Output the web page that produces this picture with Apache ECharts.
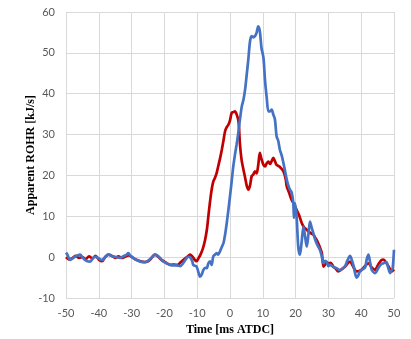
<!DOCTYPE html>
<html>
<head>
<meta charset="utf-8">
<script src="https://cdn.jsdelivr.net/npm/echarts@6/dist/echarts.min.js"></script>
<style>html,body{margin:0;padding:0;background:#fff;}#c{width:411px;height:339px;}</style>
</head>
<body>
<div id="c"></div>
<script>
var xTicks = [-50, -40, -30, -20, -10, 0, 10, 20, 30, 40, 50];
var yTicks = [-10, 0, 10, 20, 30, 40, 50, 60];

var redTime = [-50,-49,-48,-47,-46,-45,-44,-43,-42,-41,-40,-39,-38,-37,-36,-35,-34,-33,-32,-31,-30,-29,-28,-27,-26,-25,-24,-23,-22,-21,-20,-19,-18,-17,-16,-15,-14,-13,-12.2,-11.5,-10.7,-10.2,-9.7,-9,-8.3,-7.6,-7,-6.6,-6.1,-5.6,-5.1,-4.6,-4.1,-3.6,-3,-2.5,-2,-1.5,-1,-0.5,0,0.5,1,1.5,2,2.6,3,3.5,4.1,4.6,5.1,5.6,6.1,6.6,7.1,7.6,8.1,8.6,9.1,9.6,10.2,10.7,11.2,11.7,12.2,12.7,13.2,13.7,14.2,15,16.3,17,17.3,18,18.8,19.5,20.3,21.1,21.9,22.6,23.4,24.4,25.4,26.2,26.9,27.5,28,28.5,29,29.5,30,30.7,31.5,32.2,33,34,35.1,36,36.6,37.5,38.6,39.6,40.6,41.4,42.2,43.2,44.2,45.2,46.2,46.8,47.7,48.5,49.3,50];
var redROHR = [0,-0.6,-0.2,0.3,-0.2,0,-0.5,0.2,-0.3,0.3,-0.6,-1,0.1,0.6,0.3,-0.2,0.2,-0.2,0.1,0.4,0.1,-0.5,-0.8,-1.1,-1.2,-1,-0.3,0.6,0.2,-0.6,-1.1,-1.6,-1.9,-1.8,-1.9,-1.2,-0.5,0.1,0.6,0.2,-0.7,-1,-0.4,0.6,2,4.2,7,10,13.5,16.5,18.5,19.4,20.5,22.2,24.3,26.3,28.5,30.8,31.8,32.4,33.5,35.3,35.5,35.7,35,33.2,28,24,21.4,19.5,17.5,16.5,17.5,19.8,20.2,21,20.5,22.5,25.5,24,22.6,22.2,23,23.4,22.8,23.5,24.3,23.5,22.6,22.2,21,19,17.3,15.8,14,13,11.6,10.2,8.3,7.3,6.7,6,5.5,4.5,3.4,2.2,1,-2.3,-1.8,-1.2,-1.5,-1.4,-2.3,-2.8,-3.5,-3,-2.3,-1.4,-1.1,-2.2,-3.5,-3.3,-2.7,-2,-1.5,-2.5,-3.1,-1.8,-0.7,-0.6,-1.5,-2.5,-3.5,-3];

var blueTime = [-50,-49.5,-48.8,-48,-47.3,-46.5,-45.7,-45,-44.2,-43.5,-42.7,-42,-41.2,-40.2,-39.1,-38,-37.1,-36,-35.1,-34.3,-33.5,-32.5,-31.5,-31,-30.3,-29.5,-28.5,-27.4,-26.4,-25.4,-24.4,-23.5,-22.9,-22,-21,-20.3,-19.3,-18.3,-17.3,-16.3,-15.2,-14.3,-13.2,-12.7,-12.2,-11.5,-11.2,-10.2,-9.7,-9.1,-8.6,-8.1,-7.6,-7.1,-6.6,-6.1,-5.6,-5.1,-4.6,-4.1,-3.6,-3,-2.5,-2,-1.5,-1,-0.5,0,0.5,1,1.5,2,2.5,3,3.6,4.1,4.6,5.1,5.6,6.1,6.6,7.1,7.6,8.1,8.6,9.1,9.6,10.2,10.7,11.2,11.7,12.2,12.7,13.2,13.7,14.2,14.7,15.2,15.8,16.3,16.8,17.3,17.8,18.3,18.8,19.3,19.5,19.8,20.3,20.8,21.3,21.8,22.4,22.9,23.4,23.9,24.4,24.9,25.4,25.9,26.4,26.9,27.4,27.9,28.5,29,29.5,30,30.5,31.5,32.5,33.5,34.3,35.1,35.8,36.6,37.1,37.6,38.1,38.6,39.1,39.6,40.4,41.2,41.7,42.2,42.7,43.2,44.2,45.2,46,46.8,47.7,48.3,48.8,49.3,49.6,50];
var blueROHR = [1.1,0.5,-0.7,-0.3,0.1,0.4,0.6,0,-0.7,-1,-1.1,-0.5,0.1,-0.2,-0.7,0,0.6,0.3,0.1,-0.1,-0.2,0.2,0.6,1,0.3,-0.2,-0.7,-1.1,-1.2,-1.1,-0.5,0.2,0.6,0.3,-0.5,-1.1,-1.5,-1.9,-2,-2,-2.2,-1.5,-0.2,0.1,0,-1,-1.9,-2.3,-3.5,-4.8,-4.2,-3.1,-2.6,-2.7,-1.5,-1,-1.9,0.2,0.6,1,0.6,1.5,2.5,3.4,5.5,8.3,11.5,14.9,18.5,22.2,25,27.5,30.2,33.5,36.9,38.5,41,44.7,48.5,52.8,54.1,53.8,54.1,54.9,56.5,55.3,51.2,48.8,43,39,35.7,35.7,36.1,34.9,33.7,29.6,28.5,26.3,24.8,23,21,19,17.5,16.5,15.8,13.2,9.6,13.2,10,2.6,0.6,3.4,7.5,5,2.6,5.5,8.7,7.2,5.9,4.5,3.4,2.6,1.8,0.5,-1.5,-0.9,-1.2,-2.2,-1.9,-2.4,-2.7,-3.2,-2.8,-2.2,-0.8,0.3,-0.6,-1.9,-3.8,-5,-4.5,-3.5,-3,-2.5,-0.5,0.6,-1.2,-3.1,-3.9,-2.7,-1.8,-1.5,-1.2,-2.8,-3.9,-3.2,-2.7,1.8];

function pairs(xs, ys) { return xs.map(function (x, i) { return [x, ys[i]]; }); }

var chart = echarts.init(document.getElementById('c'), null, {renderer: 'canvas'});
chart.setOption({
  animation: false,
  backgroundColor: '#ffffff',
  grid: {left: 66, right: 17, top: 12, bottom: 41, containLabel: false, outerBoundsMode: 'none'},
  xAxis: {
    type: 'value', min: xTicks[0], max: xTicks[xTicks.length - 1], interval: 10,
    name: 'Time [ms ATDC]', nameLocation: 'middle', nameGap: 26, nameMoveOverlap: false,
    nameTextStyle: {fontFamily: 'Liberation Serif', fontWeight: 'bold', fontSize: 12, color: '#000'},
    axisLine: {show: false}, axisTick: {show: false},
    axisLabel: {color: '#595959', fontFamily: 'Lato', fontSize: 11, margin: 10},
    splitLine: {show: true, lineStyle: {color: '#d9d9d9', width: 1}}
  },
  yAxis: {
    type: 'value', min: yTicks[0], max: yTicks[yTicks.length - 1], interval: 10,
    name: 'Apparent ROHR [kJ/s]', nameLocation: 'middle', nameGap: 29, nameRotate: 90, nameMoveOverlap: false,
    nameTextStyle: {fontFamily: 'Liberation Serif', fontWeight: 'bold', fontSize: 12, color: '#000'},
    axisLine: {show: false}, axisTick: {show: false},
    axisLabel: {color: '#595959', fontFamily: 'Lato', fontSize: 11, margin: 11},
    splitLine: {show: true, lineStyle: {color: '#d9d9d9', width: 1}}
  },
  series: [
    {type: 'line', data: pairs(redTime, redROHR), showSymbol: false, smooth: 0.3,
     lineStyle: {color: '#c00000', width: 2.7}, itemStyle: {color: '#c00000'}},
    {type: 'line', data: pairs(blueTime, blueROHR), showSymbol: false, smooth: 0.3,
     lineStyle: {color: '#4472c4', width: 2.7}, itemStyle: {color: '#4472c4'}}
  ]
});
</script>
</body>
</html>
